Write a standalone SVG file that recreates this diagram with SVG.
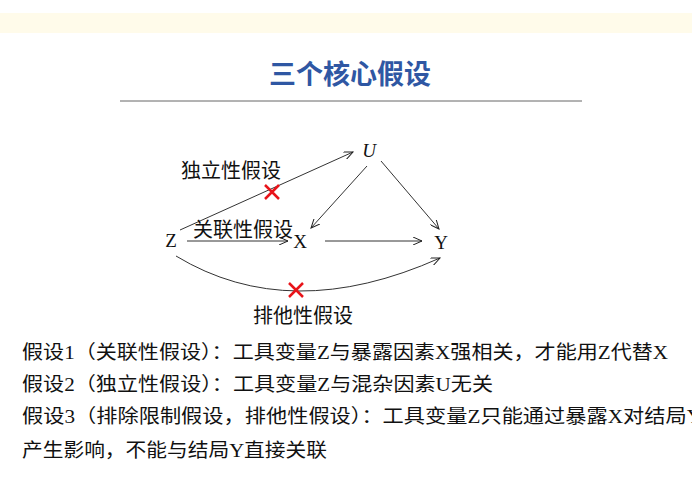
<svg xmlns="http://www.w3.org/2000/svg" width="692" height="500" viewBox="0 0 692 500">
<defs>
<marker id="ah" markerWidth="10" markerHeight="8" refX="9" refY="4" orient="auto" markerUnits="userSpaceOnUse"><path d="M0,0 L9,4 L0,8" fill="none" stroke="#222" stroke-width="1"/></marker>
</defs>
<style>
.cn{font-family:"Noto Sans CJK SC",sans-serif;fill:#111}
.lt{font-family:"Liberation Serif",serif;fill:#111;font-size:19px}
.e{stroke:#333;stroke-width:1;fill:none;marker-end:url(#ah)}
.x{stroke:#e8141a;stroke-width:2.5}
.b{font-family:"Liberation Serif","Noto Sans CJK SC",serif;font-size:19px;fill:#111}
</style>
<rect width="692" height="500" fill="#fff"/>
<rect x="0" y="13" width="692" height="20" fill="#fffbea"/>
<text x="350" y="84" text-anchor="middle" class="cn" style="font-size:27px;font-weight:bold;fill:#2f57a3">三个核心假设</text>
<line x1="120" y1="101" x2="582" y2="101" stroke="#666" stroke-width="1"/>
<g id="connectors">
<path class="e" d="M180,230 L353,152"/>
<path class="e" d="M367,166 L311,228"/>
<path class="e" d="M381,161 L439,229"/>
<path class="e" d="M187,241 L288,241"/>
<path class="e" d="M325,241 L422,241"/>
<path class="e" d="M176,256 Q290,325 440,258"/>
</g>
<g id="crosses">
<path class="x" d="M265,185 L279,199 M279,185 L265,199"/>
<path class="x" d="M289,283 L303,297 M303,283 L289,297"/>
</g>
<g id="node-Z"><text x="171" y="247" class="lt" text-anchor="middle">Z</text></g>
<g id="node-U"><text x="369" y="157" class="lt" text-anchor="middle" font-style="italic">U</text></g>
<g id="node-X"><text x="300" y="248" class="lt" text-anchor="middle">X</text></g>
<g id="node-Y"><text x="441" y="249" class="lt" text-anchor="middle">Y</text></g>
<g id="labels">
<text x="231" y="178" class="cn" font-size="20" text-anchor="middle">独立性假设</text>
<text x="243" y="237" class="cn" font-size="20" text-anchor="middle">关联性假设</text>
<text x="303" y="323" class="cn" font-size="20" text-anchor="middle">排他性假设</text>
</g>
<g id="notes">
<text x="22" y="359" class="b" textLength="646" lengthAdjust="spacingAndGlyphs">假设1（关联性假设）：工具变量Z与暴露因素X强相关，才能用Z代替X</text>
<text x="22" y="391" class="b" textLength="471" lengthAdjust="spacingAndGlyphs">假设2（独立性假设）：工具变量Z与混杂因素U无关</text>
<text x="22" y="423" class="b" textLength="680" lengthAdjust="spacingAndGlyphs">假设3（排除限制假设，排他性假设）：工具变量Z只能通过暴露X对结局Y</text>
<text x="22" y="457" class="b" textLength="305" lengthAdjust="spacingAndGlyphs">产生影响，不能与结局Y直接关联</text>
</g>
</svg>
